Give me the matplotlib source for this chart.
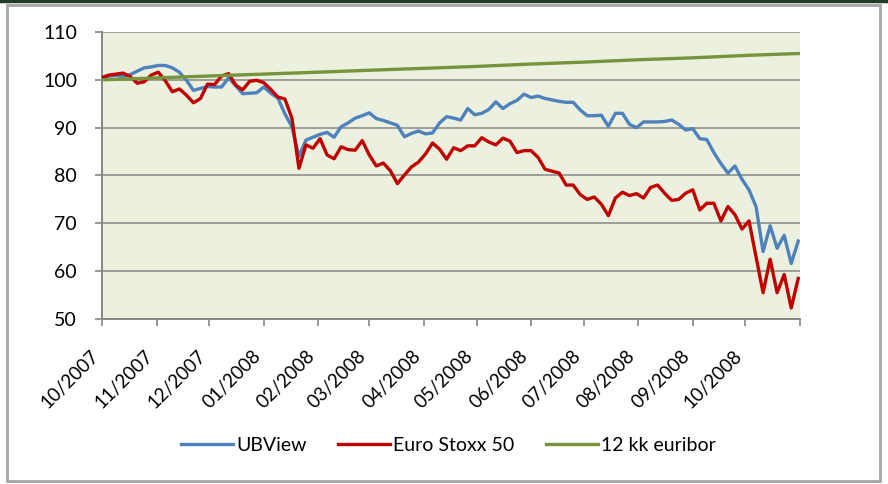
import numpy as np
import pandas as pd
import matplotlib
matplotlib.use("Agg")
import matplotlib.pyplot as plt
import matplotlib.dates as mdates
from matplotlib.patches import Rectangle
from matplotlib.lines import Line2D

plt.rcParams['font.family'] = ['Lato', 'DejaVu Sans']

# aikasarja 4 päivän välein 1.10.2007 - 31.10.2008
dates = pd.date_range('2007-10-01', periods=100, freq='4D')

ubview = [100.2, 100.8, 100.9, 100.7, 101.1, 101.8, 102.5, 102.7, 103.0, 103.0,
          102.5, 101.6, 99.9, 97.8, 98.2, 98.6, 98.5, 98.5, 100.4, 98.8,
          97.1, 97.2, 97.3, 98.5, 97.2, 96.2, 92.9, 90.2, 84.0, 87.4,
          88.0, 88.6, 89.0, 88.0, 90.2, 91.0, 92.0, 92.5, 93.1, 91.9,
          91.5, 91.0, 90.5, 88.1, 88.8, 89.3, 88.7, 88.9, 91.0, 92.3,
          92.0, 91.6, 94.0, 92.7, 93.0, 93.8, 95.4, 94.0, 95.0, 95.7,
          97.0, 96.3, 96.6, 96.1, 95.8, 95.5, 95.3, 95.3, 93.7, 92.5,
          92.5, 92.6, 90.3, 93.0, 93.0, 90.7, 90.0, 91.2, 91.2, 91.2,
          91.3, 91.6, 90.7, 89.5, 89.8, 87.7, 87.5, 84.8, 82.5, 80.5,
          82.0, 79.2, 77.0, 73.5, 64.1, 69.5, 64.8, 67.5, 61.6, 66.3]

stoxx = [100.5, 101.0, 101.2, 101.4, 100.7, 99.3, 99.6, 101.0, 101.6, 99.8,
         97.5, 98.1, 96.8, 95.2, 96.1, 99.1, 99.0, 100.8, 101.3, 98.9,
         97.9, 99.7, 99.9, 99.4, 98.0, 96.4, 96.0, 92.0, 81.5, 86.4,
         85.7, 87.7, 84.3, 83.5, 86.0, 85.4, 85.3, 87.3, 84.3, 82.0,
         82.6, 81.0, 78.3, 80.1, 81.8, 82.8, 84.5, 86.8, 85.5, 83.4,
         85.8, 85.2, 86.2, 86.2, 87.9, 87.0, 86.4, 87.8, 87.2, 84.8,
         85.2, 85.2, 83.8, 81.3, 80.9, 80.5, 78.0, 78.0, 76.0, 75.0,
         75.5, 74.0, 71.6, 75.3, 76.5, 75.8, 76.2, 75.3, 77.5, 78.0,
         76.3, 74.8, 75.0, 76.3, 77.0, 72.8, 74.2, 74.2, 70.5, 73.5,
         71.8, 68.8, 70.5, 63.0, 55.5, 62.5, 55.5, 59.3, 52.3, 58.5]

euribor_dates = ['2007-10-01', '2007-11-01', '2007-12-01', '2008-01-01', '2008-02-01',
                 '2008-03-01', '2008-04-01', '2008-05-01', '2008-06-01', '2008-07-01',
                 '2008-08-01', '2008-09-01', '2008-10-01', '2008-10-31']
euribor = [100.0, 100.4, 100.8, 101.2, 101.6, 102.0, 102.4, 102.8, 103.3, 103.7,
           104.2, 104.6, 105.1, 105.5]

months = pd.date_range('2007-10-01', '2008-11-01', freq='MS')
month_labels = [d.strftime('%m/%Y') for d in months[:-1]] + ['']

fig = plt.figure(figsize=(8.88, 4.84), dpi=100)
ax = fig.add_axes([0.1149, 0.3409, 0.786, 0.593])
ax.set_facecolor('#EBF1DE')

ax.plot(dates, ubview, color='#4F81BD', lw=2.4, label='UBView', zorder=3)
ax.plot(dates, stoxx, color='#C00000', lw=2.4, label='Euro Stoxx 50', zorder=4)
ax.plot(pd.to_datetime(euribor_dates), euribor, color='#77933C', lw=2.4,
        label='12 kk euribor', zorder=5)

ax.set_ylim(50, 110)
ax.set_yticks(range(50, 111, 10))
ax.set_xlim(months[0], months[-1])
ax.set_xticks(months)
ax.set_xticklabels(month_labels, rotation=45, ha='right', va='bottom',
                   rotation_mode='anchor')
ax.grid(axis='y', color='#868686', lw=1.1)
ax.set_axisbelow(True)
for s in ['top', 'right']:
    ax.spines[s].set_visible(False)
for s in ['left', 'bottom']:
    ax.spines[s].set_color('#868686')
    ax.spines[s].set_linewidth(1.4)
ax.tick_params(axis='y', length=5, width=1.2, color='#868686', labelsize=14, pad=13)
ax.tick_params(axis='x', length=5, width=1.2, color='#868686', labelsize=13.5, pad=24)

fig.legend(loc='center', bbox_to_anchor=(0.505, 0.08), ncol=3, frameon=False,
           fontsize=14, handlelength=2.7, handletextpad=0.15, columnspacing=1.6)

# kehys ja yläreunan tumma viiva
fig.add_artist(Rectangle((0.008, 0.006), 0.983, 0.984, transform=fig.transFigure,
                         fill=False, edgecolor='#A6A6A6', lw=2))
fig.add_artist(Line2D([0, 1], [0.998, 0.998], transform=fig.transFigure,
                      color='#1E3B23', lw=2.5))

fig.savefig('out.png', dpi=100)
